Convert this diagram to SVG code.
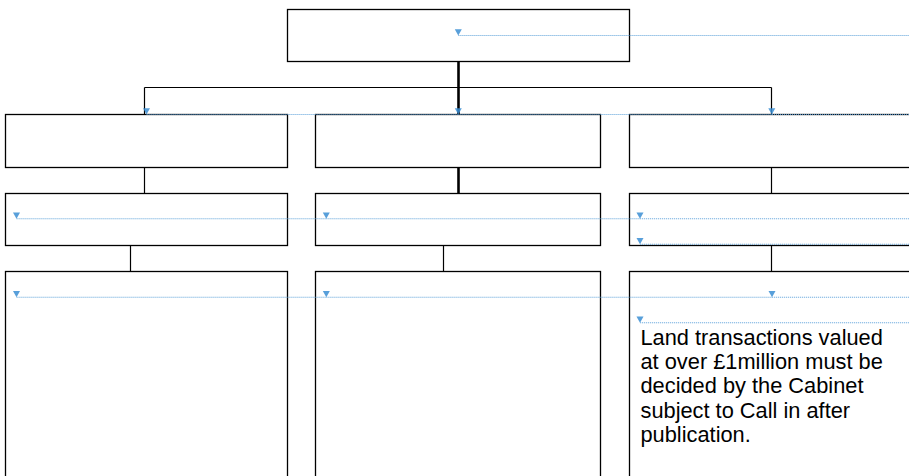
<svg xmlns="http://www.w3.org/2000/svg" width="909" height="476" viewBox="0 0 909 476">
<style>
.box{fill:#fff;stroke:#000;stroke-width:1.3}
.con{fill:none;stroke:#000;stroke-width:1.2}
.thick{stroke-width:2.6}
.dot{fill:none;stroke:#5fa3db;stroke-width:1.1;stroke-dasharray:1.2 0.8;opacity:0.85;marker-start:url(#tri)}
.lbl{font-family:"Liberation Sans",Arial,sans-serif;font-size:21.8px;fill:#000}
</style>
<defs>
<marker id="tri" markerUnits="userSpaceOnUse" markerWidth="8" markerHeight="8" refX="3.5" refY="6.3" orient="0" overflow="visible">
<path d="M0,0 L7,0 L3.5,6.3 Z" fill="#3b8fd4"/>
</marker>
</defs>
<rect width="909" height="476" fill="#fff"/>
<g id="connectors">
<path class="con thick" d="M458.5,61.5 V114.5"/>
<path class="con" d="M144.5,87.5 H771.5 M144.5,87.5 V114.5 M771.5,87.5 V114.5"/>
<path class="con" d="M144.5,167.5 V193.5"/>
<path class="con thick" d="M458.5,167.5 V193.5"/>
<path class="con" d="M771.5,167.5 V193.5"/>
<path class="con" d="M130.5,245.5 V271.5"/>
<path class="con" d="M443.5,245.5 V271.5"/>
<path class="con" d="M771.5,245.5 V271.5"/>
</g>
<g id="top"><rect class="box" x="287.5" y="9.5" width="342" height="52"/></g>
<g id="l1"><rect class="box" x="5.5" y="114.5" width="282" height="53"/></g>
<g id="m1"><rect class="box" x="315.5" y="114.5" width="285" height="53"/></g>
<g id="r1"><rect class="box" x="629.5" y="114.5" width="295" height="53"/></g>
<g id="l2"><rect class="box" x="5.5" y="193.5" width="282" height="52"/></g>
<g id="m2"><rect class="box" x="315.5" y="193.5" width="285" height="52"/></g>
<g id="r2"><rect class="box" x="629.5" y="193.5" width="295" height="52"/></g>
<g id="l3"><rect class="box" x="5.5" y="271.5" width="282" height="230"/></g>
<g id="m3"><rect class="box" x="315.5" y="271.5" width="285" height="230"/></g>
<g id="r3"><rect class="box" x="629.5" y="271.5" width="295" height="230"/>
<text class="lbl" x="640.5"><tspan x="640.5" y="344.5">Land transactions valued</tspan><tspan x="640.5" y="368.9">at over £1million must be</tspan><tspan x="640.5" y="393.3">decided by the Cabinet</tspan><tspan x="640.5" y="417.7">subject to Call in after</tspan><tspan x="640.5" y="442.1">publication.</tspan></text>
</g>
<g id="guides">
<path class="dot" d="M458.3,35.5 H909"/>
<path class="dot" d="M146.5,114.5 H458.3"/>
<path class="dot" d="M458.3,114.5 H771.8"/>
<path class="dot" d="M771.8,114.5 H909"/>
<path class="dot" d="M16.5,218.7 H326.3"/>
<path class="dot" d="M326.3,218.7 H640"/>
<path class="dot" d="M640,218.7 H909"/>
<path class="dot" d="M640,244.3 H909"/>
<path class="dot" d="M16.5,297.3 H326.3"/>
<path class="dot" d="M326.3,297.3 H772"/>
<path class="dot" d="M772,297.3 H909"/>
<path class="dot" d="M640,322.8 H909"/>
</g>
</svg>
